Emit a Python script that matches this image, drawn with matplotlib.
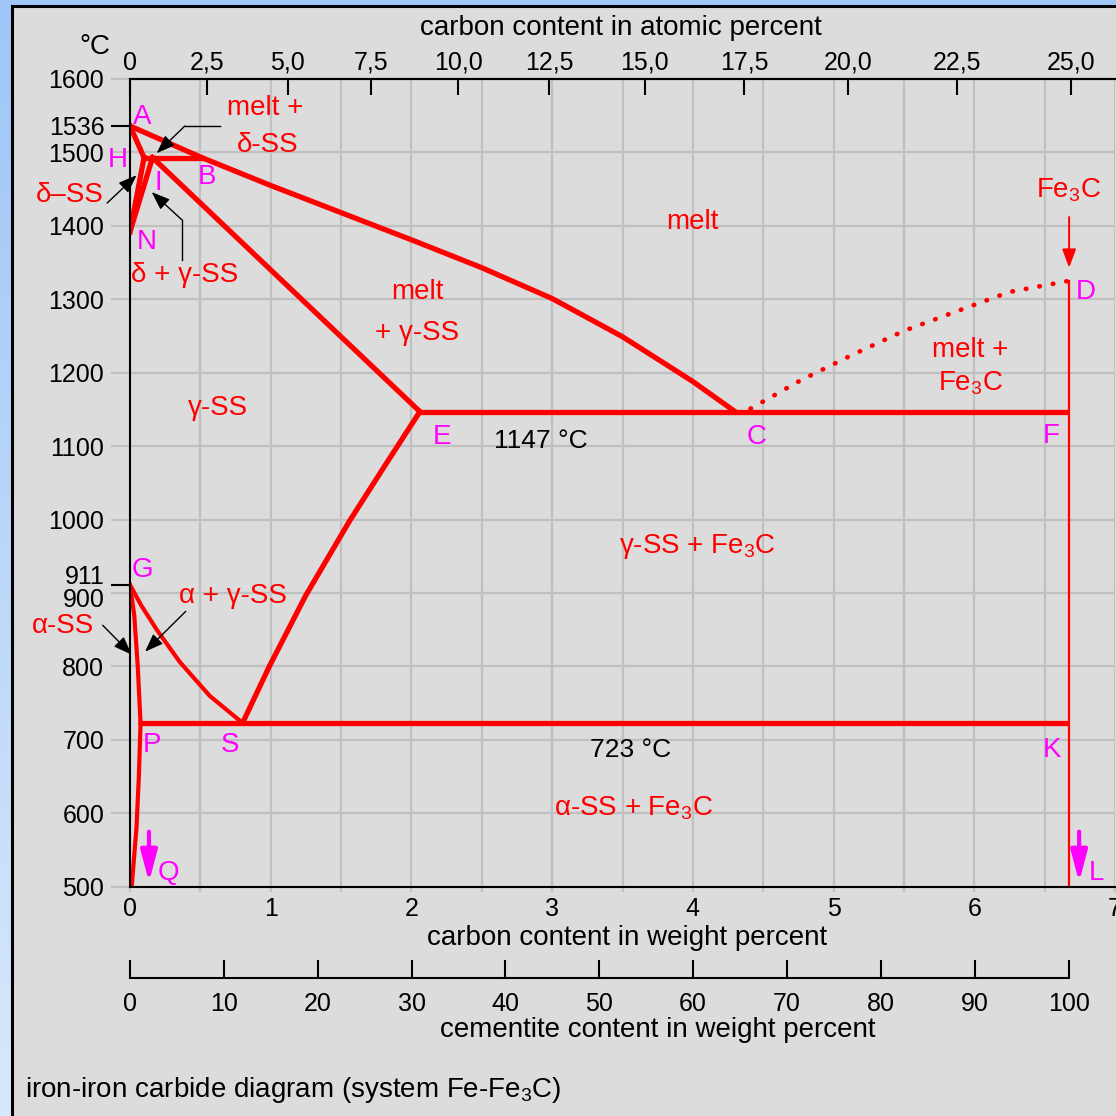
import numpy as np
import matplotlib.pyplot as plt
from matplotlib.colors import LinearSegmentedColormap
from matplotlib.patches import Rectangle

plt.rcParams['font.family'] = ['Liberation Sans', 'DejaVu Sans']
plt.rcParams['mathtext.fontset'] = 'custom'
plt.rcParams['mathtext.rm'] = 'Liberation Sans'
plt.rcParams['mathtext.it'] = 'Liberation Sans:italic'
plt.rcParams['mathtext.bf'] = 'Liberation Sans:bold'

RED = '#ff0000'
MAGENTA = '#ff00ff'
GRID = '#c0c0c0'
PANEL = '#dcdcdc'
W = H = 1116
TICK_FS = 18

# phase boundaries (carbon wt%, temperature in C)
liquidus_wt = [0.0, 0.51, 1.0, 1.5, 2.0, 2.5, 3.0, 3.5, 4.0, 4.3]
liquidus_t = [1536, 1493, 1455, 1418, 1381, 1343, 1301, 1249, 1188, 1147]
delta_solidus_wt = [0.0, 0.1]
delta_solidus_t = [1536, 1493]
peritectic_wt = [0.1, 0.51]
peritectic_t = [1493, 1493]
hn_wt = [0.1, 0.0]
hn_t = [1493, 1392]
jn_wt = [0.16, 0.0]
jn_t = [1493, 1392]
je_wt = [0.16, 2.06]
je_t = [1493, 1147]
eutectic_wt = [2.06, 6.65]
eutectic_t = [1147, 1147]
acm_wt = [0.8, 0.99, 1.25, 1.56, 1.82, 2.06]
acm_t = [723, 800, 897, 998, 1076, 1147]
a3_wt = [0.0, 0.08, 0.19, 0.354, 0.566, 0.8]
a3_t = [911, 883, 850, 806, 760, 723]
gp_wt = [0.0, 0.03, 0.055, 0.075]
gp_t = [911, 870, 800, 723]
pq_wt = [0.075, 0.063, 0.046, 0.012]
pq_t = [723, 650, 580, 500]
eutectoid_wt = [0.075, 6.65]
eutectoid_t = [723, 723]
cd_wt = [4.3, 4.41, 4.76, 5.13, 5.5, 5.88, 6.25, 6.67]
cd_t = [1147, 1151, 1189, 1224, 1257, 1284, 1310, 1325]
fe3c_wt = [6.67, 6.67]
fe3c_t = [1325, 500]

# axes
wt_ticks = [0, 1, 2, 3, 4, 5, 6, 7]
wt_minor = [0.5, 1.5, 2.5, 3.5, 4.5, 5.5, 6.5]
temp_ticks = [500, 600, 700, 800, 900, 1000, 1100, 1200, 1300, 1400, 1500, 1600]
temp_labels = ['500', '600', '700', '800', '', '1000', '1100', '1200', '1300', '1400', '1500', '1600']
temp_special = [911, 1536]
temp_special_labels = ['', '1536']
atomic_ticks = [0, 2.5, 5.0, 7.5, 10.0, 12.5, 15.0, 17.5, 20.0, 22.5, 25.0]
atomic_labels = ['0', '2,5', '5,0', '7,5', '10,0', '12,5', '15,0', '17,5', '20,0', '22,5', '25,0']
cementite_ticks = [0, 10, 20, 30, 40, 50, 60, 70, 80, 90, 100]
FE3C_WT = 6.67

# region labels: text, wt%, T
region_labels = [
    ('melt +', 0.96, 1560), ('δ-SS', 0.98, 1510), ('δ–SS', -0.43, 1442),
    ('δ + γ-SS', 0.39, 1333), ('melt', 4.0, 1405), ('melt', 2.04, 1310),
    ('+ γ-SS', 2.04, 1254), ('γ-SS', 0.625, 1152), ('Fe$_3$C', 6.67, 1449),
    ('melt +', 5.97, 1231), ('Fe$_3$C', 5.97, 1186), ('γ-SS + Fe$_3$C', 4.03, 963),
    ('α + γ-SS', 0.73, 896), ('α-SS', -0.476, 855), ('α-SS + Fe$_3$C', 3.58, 607),
]
point_labels = [
    ('A', 0.09, 1548), ('H', -0.085, 1490), ('B', 0.55, 1466), ('I', 0.2, 1458),
    ('N', 0.12, 1378), ('E', 2.22, 1112), ('C', 4.45, 1112), ('F', 6.55, 1114),
    ('D', 6.79, 1310), ('G', 0.085, 931), ('P', 0.156, 693), ('S', 0.71, 693),
    ('K', 6.55, 686), ('Q', 0.27, 519), ('L', 6.87, 519),
]
temp_labels_in = [('1147 °C', 2.92, 1107), ('723 °C', 3.56, 686)]

# black leader arrows: path points, last point is the tip
leaders = [
    [(0.64, 1536), (0.39, 1536), (0.19, 1499)],
    [(-0.163, 1431), (0.047, 1469)],
    [(0.37, 1353), (0.37, 1408), (0.154, 1446)],
    [(0.396, 875), (0.107, 820)],
    [(-0.194, 856), (0.012, 816)],
]


def wt_to_at(w):
    w = np.asarray(w, dtype=float)
    c = w / 12.011
    fe = (100 - w) / 55.845
    return 100 * c / (c + fe)


def at_to_wt(a):
    a = np.asarray(a, dtype=float)
    c = a * 12.011
    fe = (100 - a) * 55.845
    return 100 * c / (c + fe)


fig = plt.figure(figsize=(W / 100, H / 100), dpi=100)

# blue frame and grey panel
bg = fig.add_axes([0, 0, 1, 1], zorder=-10)
bg.set_xlim(0, W)
bg.set_ylim(H, 0)
bg.axis('off')
blues = LinearSegmentedColormap.from_list('frame', ['#9ec6f7', '#d8e8fb'])
bg.imshow(np.linspace(0, 1, 256)[:, None], cmap=blues, extent=(0, W, H, 0), aspect='auto')
bg.add_patch(Rectangle((12, 6), W, H, facecolor=PANEL, edgecolor='black', lw=2.2))

ax = fig.add_axes([130 / W, 1 - 886.7 / H, 985 / W, 807.7 / H])
ax.set_facecolor(PANEL)
ax.set_xlim(0, 7)
ax.set_ylim(500, 1600)
ax.set_axisbelow(True)

ax.set_xticks(wt_ticks, [str(v) for v in wt_ticks], fontsize=TICK_FS)
ax.set_xticks(wt_minor, minor=True)
ax.set_yticks(temp_ticks, temp_labels, fontsize=TICK_FS)
ax.set_yticks(temp_special, temp_special_labels, minor=True, fontsize=TICK_FS)
ax.grid(axis='x', which='both', color=GRID, lw=1.6)
ax.grid(axis='y', which='major', color=GRID, lw=1.6)
ax.tick_params(axis='x', which='both', direction='out', length=3.6, width=1.6, color=GRID,
               labelcolor='black', pad=4)
ax.tick_params(axis='y', which='major', direction='out', length=13.9, width=1.5, color=GRID,
               labelcolor='black', pad=4.6)
ax.tick_params(axis='y', which='minor', direction='out', length=13.9, width=1.5, color='black',
               labelcolor='black', pad=4.6)
yt = ax.yaxis.get_major_ticks()
yt[0].tick1line.set_color('black')
yt[-1].tick1line.set_color('black')
for side in ['left', 'top', 'bottom']:
    ax.spines[side].set_linewidth(1.5)
    ax.spines[side].set_color('black')
ax.spines['right'].set_visible(False)

# 900 / 911 labels sit tight together
ax.annotate('911', xy=(0, 911), xycoords=ax.get_yaxis_transform(), xytext=(-18.5, 6),
            textcoords='offset points', ha='right', va='center', fontsize=TICK_FS)
ax.annotate('900', xy=(0, 900), xycoords=ax.get_yaxis_transform(), xytext=(-18.5, -5),
            textcoords='offset points', ha='right', va='center', fontsize=TICK_FS)

top = ax.secondary_xaxis('top', functions=(wt_to_at, at_to_wt))
top.set_xticks(atomic_ticks, atomic_labels, fontsize=TICK_FS)
top.tick_params(direction='in', length=11.5, width=1.5, color='black', pad=3)
top.spines['top'].set_linewidth(1.5)

cem = ax.secondary_xaxis(-0.113, functions=(lambda w: np.asarray(w) * 100 / FE3C_WT,
                                            lambda c: np.asarray(c) * FE3C_WT / 100))
cem.set_xticks(cementite_ticks, [str(v) for v in cementite_ticks], fontsize=TICK_FS)
cem.tick_params(direction='in', length=13, width=1.5, color='black', pad=10)
cem.spines['bottom'].set_bounds(0, 100)
cem.spines['bottom'].set_linewidth(1.5)

# phase boundaries
thick = dict(color=RED, lw=3.8, solid_joinstyle='round')
for xs, ts in [(liquidus_wt, liquidus_t), (delta_solidus_wt, delta_solidus_t),
               (peritectic_wt, peritectic_t), (hn_wt, hn_t), (jn_wt, jn_t),
               (je_wt, je_t), (eutectic_wt, eutectic_t), (acm_wt, acm_t),
               (eutectoid_wt, eutectoid_t)]:
    ax.plot(xs, ts, **thick)
for xs, ts in [(a3_wt, a3_t), (gp_wt, gp_t), (pq_wt, pq_t)]:
    ax.plot(xs, ts, color=RED, lw=3.0, solid_joinstyle='round')
ax.plot(cd_wt[1:], cd_t[1:], color=RED, lw=3.4, linestyle=(0, (0.1, 2.8)),
        dash_capstyle='round')
ax.plot(fe3c_wt, fe3c_t, color=RED, lw=1.6)

for txt, x, t in region_labels:
    ax.text(x, t, txt, color=RED, fontsize=20, ha='center', va='center')
for txt, x, t in point_labels:
    ax.text(x, t, txt, color=MAGENTA, fontsize=20, ha='center', va='center')
for txt, x, t in temp_labels_in:
    ax.text(x, t, txt, color='black', fontsize=19, ha='center', va='center')

for path in leaders:
    xs, ts = zip(*path)
    if len(path) > 2:
        ax.plot(xs[:-1], ts[:-1], color='black', lw=1.0)
    ax.annotate('', xy=path[-1], xytext=path[-2],
                arrowprops=dict(arrowstyle='-|>,head_length=0.8,head_width=0.3',
                                mutation_scale=14, color='black', lw=1.0,
                                shrinkA=0, shrinkB=0))

# Fe3C pointer to D
ax.annotate('', xy=(6.674, 1343), xytext=(6.674, 1412),
            arrowprops=dict(arrowstyle='-|>,head_length=0.8,head_width=0.3',
                            mutation_scale=14, color=RED, lw=1.4, shrinkA=0, shrinkB=0))
# Q and L arrows
for x in [0.135, 6.745]:
    ax.annotate('', xy=(x, 506), xytext=(x, 575),
                arrowprops=dict(arrowstyle='-|>,head_length=0.95,head_width=0.25',
                                mutation_scale=20, color=MAGENTA, lw=3.0,
                                shrinkA=0, shrinkB=0))


def fig_text(x, y, s, **kw):
    fig.text(x / W, 1 - y / H, s, va='center', **kw)


fig_text(95, 47, '°C', ha='center', fontsize=20)
fig_text(621, 28, 'carbon content in atomic percent', ha='center', fontsize=20)
fig_text(627, 938, 'carbon content in weight percent', ha='center', fontsize=20)
fig_text(658, 1030, 'cementite content in weight percent', ha='center', fontsize=20)
fig_text(25, 1090, 'iron-iron carbide diagram (system Fe-Fe$_3$C)', ha='left', fontsize=20)

fig.savefig('out.png', dpi=100, facecolor=PANEL)
